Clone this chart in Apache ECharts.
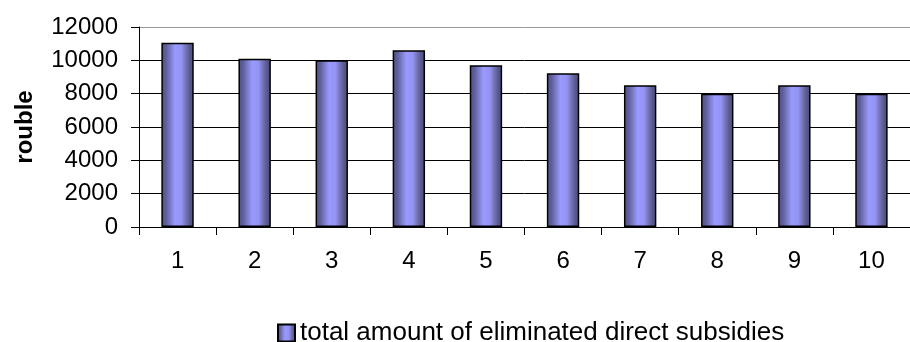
<!DOCTYPE html>
<html>
<head>
<meta charset="utf-8">
<script src="https://cdn.jsdelivr.net/npm/echarts@6/dist/echarts.min.js"></script>
<style>
  html, body { margin: 0; padding: 0; background: #fff; }
  #chart { width: 910px; height: 342px; }
</style>
</head>
<body>
<div id="chart"></div>
<script>
// Years / periods on the category axis
const categories = ['1', '2', '3', '4', '5', '6', '7', '8', '9', '10'];
// Eliminated direct subsidies, rouble
const subsidies = [11050, 10100, 10000, 10600, 9700, 9220, 8500, 8000, 8500, 8000];
const seriesName = 'total amount of eliminated direct subsidies';
const yAxisTitle = 'rouble';

const font = '"Liberation Sans", Arial, sans-serif';

// Cylinder-like shading across each bar
const barFill = new echarts.graphic.LinearGradient(0, 0, 1, 0, [
  { offset: 0.00, color: '#4f4f88' },
  { offset: 0.15, color: '#5f5f9e' },
  { offset: 0.28, color: '#7c7cc8' },
  { offset: 0.42, color: '#9999ff' },
  { offset: 0.62, color: '#9494f4' },
  { offset: 0.76, color: '#7272b4' },
  { offset: 0.88, color: '#58588e' },
  { offset: 1.00, color: '#4c4c80' }
]);

const chart = echarts.init(document.getElementById('chart'), null, { renderer: 'canvas' });

chart.setOption({
  animation: false,
  backgroundColor: '#ffffff',
  textStyle: { fontFamily: font, color: '#000' },
  grid: { left: 139, top: 27, right: -9, bottom: 115, containLabel: false },
  legend: {
    left: 272,
    top: 315,
    itemWidth: 17,
    itemHeight: 17,
    itemGap: 6,
    icon: 'rect',
    textStyle: { fontFamily: font, fontSize: 26, color: '#000' },
    data: [seriesName]
  },
  xAxis: {
    type: 'category',
    data: categories,
    axisLine: { show: true, lineStyle: { color: '#000', width: 1 } },
    axisTick: { show: true, length: 8, lineStyle: { color: '#000' } },
    axisLabel: { fontFamily: font, fontSize: 24, color: '#000', margin: 22 }
  },
  yAxis: {
    type: 'value',
    min: 0,
    max: 12000,
    interval: 2000,
    name: yAxisTitle,
    nameLocation: 'middle',
    nameGap: 102,
    nameTextStyle: { fontFamily: font, fontSize: 24, fontWeight: 'bold', color: '#000' },
    axisLine: { show: true, lineStyle: { color: '#000', width: 1 } },
    axisTick: { show: true, length: 8, lineStyle: { color: '#000' } },
    axisLabel: {
      fontFamily: font, fontSize: 24, color: '#000', margin: 21,
      formatter: (v) => String(v)
    },
    splitLine: {
      show: true,
      lineStyle: { color: ['#000', '#000', '#000', '#000', '#000', '#000', '#999'], width: 1 }
    }
  },
  series: [{
    name: seriesName,
    type: 'bar',
    data: subsidies,
    barWidth: '42%',
    itemStyle: { color: barFill, borderColor: '#000', borderWidth: 1.5 }
  }]
});
</script>
</body>
</html>
